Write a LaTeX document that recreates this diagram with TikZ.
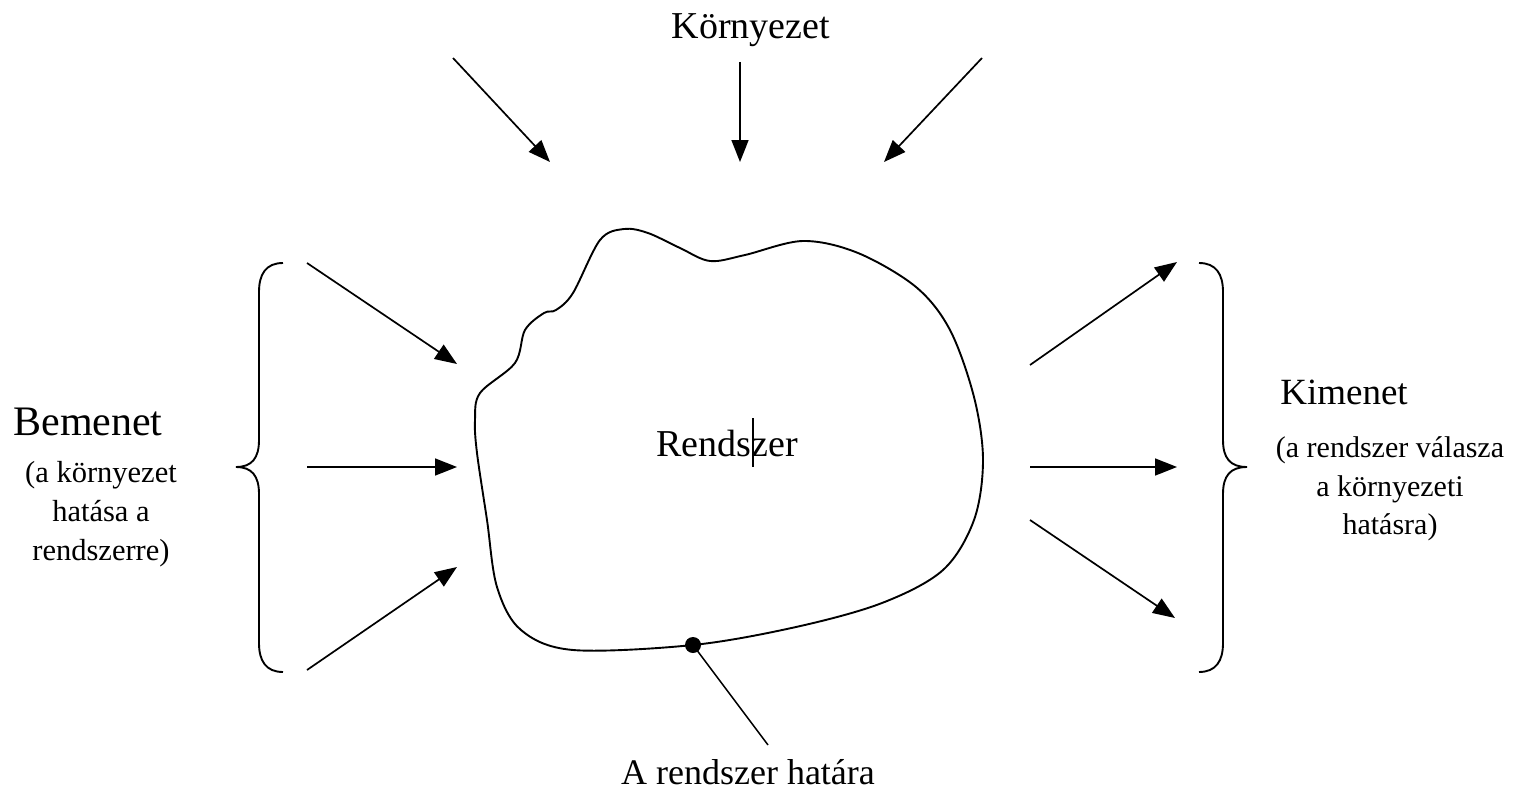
\documentclass[tikz,border=0pt]{standalone}
\usepackage{fontspec}
\setmainfont{Liberation Serif}
\usetikzlibrary{arrows.meta}
\tikzset{
  flow/.style={line width=1.7pt, -{Triangle[length=22pt,width=17pt]}},
  outline/.style={line width=1.9pt},
  bracket/.style={line width=1.9pt},
  bigtext/.style={inner sep=0pt, font=\fontsize{38}{44}\selectfont},
  smalltext/.style={inner sep=0pt, align=center, font=\fontsize{30.5}{39}\selectfont},
}
\begin{document}
\begin{tikzpicture}[x=1pt,y=-1pt]
\useasboundingbox (0,0) rectangle (1513,792);

% the system boundary
\draw[outline] plot[smooth cycle, tension=0.55] coordinates {
  (475,420) (480,393) (515,363) (525,330) (544,313) (556,310) (573,293)
  (600,240) (624,229) (648,233) (680,248) (710,261) (745,255) (803,241) (858,253)
  (916,287) (950,330) (974,397) (983,460) (974,520) (943,570) (882,603)
  (796,627) (693,645) (573,650) (521,630) (497,587) (487,520) (477,453)};

\node[bigtext] (sys) at (727,443) {Rendszer};
\coordinate (curT) at (753,418);
\coordinate (curB) at (753,467);
\draw[line width=1.2pt] (curT) -- (curB);

% environment
\node[bigtext] (env) at (751,30) {Környezet};
\coordinate (e1s) at (453,58);  \coordinate (e1e) at (550,162);
\coordinate (e2s) at (740,62);  \coordinate (e2e) at (740,162);
\coordinate (e3s) at (982,58);  \coordinate (e3e) at (884,162);
\draw[flow] (e1s) -- (e1e);
\draw[flow] (e2s) -- (e2e);
\draw[flow] (e3s) -- (e3e);

% inputs
\coordinate (i1s) at (307,263); \coordinate (i1e) at (457,364);
\coordinate (i2s) at (307,467); \coordinate (i2e) at (457,467);
\coordinate (i3s) at (307,670); \coordinate (i3e) at (457,567);
\draw[flow] (i1s) -- (i1e);
\draw[flow] (i2s) -- (i2e);
\draw[flow] (i3s) -- (i3e);

% outputs
\coordinate (o1s) at (1030,365); \coordinate (o1e) at (1177,262);
\coordinate (o2s) at (1030,467); \coordinate (o2e) at (1177,467);
\coordinate (o3s) at (1030,520); \coordinate (o3e) at (1175,618);
\draw[flow] (o1s) -- (o1e);
\draw[flow] (o2s) -- (o2e);
\draw[flow] (o3s) -- (o3e);

% input brace
\draw[bracket] (283,263) .. controls (266,263) and (259,274) .. (259,292)
  -- (259,440) .. controls (259,458) and (252,467) .. (236,467)
  .. controls (252,467) and (259,476) .. (259,494)
  -- (259,643) .. controls (259,661) and (266,672) .. (283,672);
% output brace
\draw[bracket] (1199,263) .. controls (1216,263) and (1223,274) .. (1223,292)
  -- (1223,440) .. controls (1223,458) and (1230,467) .. (1247,467)
  .. controls (1230,467) and (1223,476) .. (1223,494)
  -- (1223,643) .. controls (1223,661) and (1216,672) .. (1199,672);

% labels
\node[inner sep=0pt, font=\fontsize{42}{48}\selectfont] (inp) at (88,422) {Bemenet};
\node[smalltext] (inpnote) at (101,514) {(a környezet\\hatása a\\rendszerre)};
\node[bigtext, font=\fontsize{37}{44}\selectfont] (outp) at (1344,392) {Kimenet};
\node[smalltext, font=\fontsize{30}{38.5}\selectfont] (outpnote) at (1390,489) {(a rendszer válasza\\a környezeti\\hatásra)};

% boundary marker
\coordinate (dot) at (693,645);
\coordinate (tail) at (768,745);
\fill (dot) circle (8);
\draw[line width=1.5pt] (dot) -- (tail);
\node[bigtext, font=\fontsize{36}{42}\selectfont] (bnd) at (748,772) {A rendszer határa};
\end{tikzpicture}
\end{document}
